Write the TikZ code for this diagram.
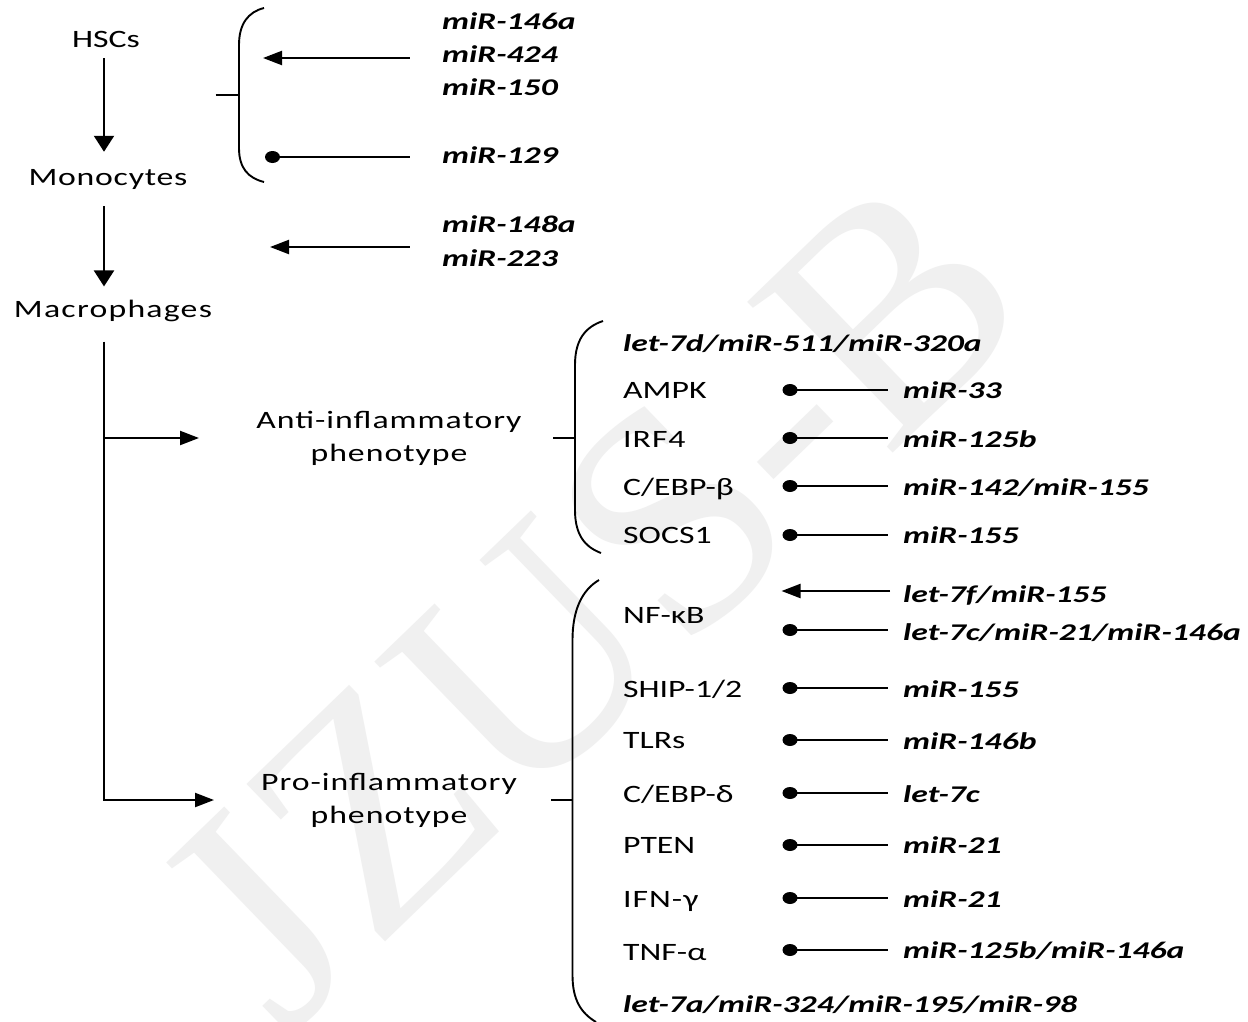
\documentclass[tikz,border=0pt]{standalone}
\usepackage{fontspec}
\setmainfont{Carlito}[FakeStretch=1.35]
\newfontfamily\mirfam{Carlito}[FakeStretch=1.4]
\newfontfamily\wmfam{Liberation Serif}
\usetikzlibrary{arrows.meta,shapes.geometric}
\tikzset{
  lbl/.style={inner sep=0pt, font={\fontsize{25}{33}\selectfont}},
  sp/.style={inner sep=0pt, font={\fontsize{25}{33}\selectfont\addfontfeatures{LetterSpace=#1}}},
  mir/.style={inner sep=0pt, anchor=base west, font={\mirfam\bfseries\itshape\fontsize{24}{30}\selectfont}},
  ln/.style={line width=2.2pt},
  varr/.style={ln, -{Triangle[length=16pt,width=20pt]}},
  harr/.style={ln, -{Triangle[length=19pt,width=14pt]}},
  dotn/.style={ellipse, fill=black, minimum width=15pt, minimum height=12pt, inner sep=0pt},
  brace/.style={line width=1.9pt},
}
\begin{document}
\begin{tikzpicture}[x=1pt,y=-1pt]
\useasboundingbox (0,0) rectangle (1248,1021);
\fill[white] (0,0) rectangle (1248,1021);
% watermark
\node[rotate=44, text=black!6, inner sep=0pt, font={\wmfam\fontsize{320}{320}\selectfont}] (wm) at (590,600) {JZUS-B};

% helper coordinates
\coordinate (spine) at (104,0);
\coordinate (antitip) at (199,0);
\coordinate (protip) at (214,0);
\coordinate (antitick) at (553,0);
\coordinate (antibr) at (575,0);
\coordinate (protick) at (551,0);
\coordinate (probr) at (572.5,0);

% left column
\node[lbl, anchor=base] (hsc) at (106,47) {HSCs};
\node[sp=3, anchor=base] (mono) at (108,185) {Monocytes};
\node[sp=5, anchor=base] (macro) at (113,317) {Macrophages};
\node[sp=4, align=center] (anti) at (389,438) {Anti-inflammatory\\phenotype};
\node[sp=4, align=center] (pro) at (389,800) {Pro-inflammatory\\phenotype};

\draw[varr, shorten <=11pt, shorten >=17pt] (hsc.south -| spine) -- (mono.north -| spine);
\draw[varr, shorten <=17pt, shorten >=13pt] (mono.south -| spine) -- (macro.north -| spine);
\draw[harr, shorten <=20pt] (macro.south -| spine) |- (protip |- pro.west);
\draw[harr] (spine |- anti.west) -- (antitip |- anti.west);

% top bracket
\draw[brace] (264,8) .. controls (248,12) and (239,24) .. (239,45) -- (239,148) .. controls (239,168) and (248,178) .. (264,182);
\draw[ln] (215.5,95) -- (239,95);

% top miRNAs
\node[mir] (m146) at (442,29) {miR-146a};
\node[mir] (m424) at (442,62) {miR-424};
\node[mir] (m150) at (442,95) {miR-150};
\node[mir] (m129) at (442,163) {miR-129};
\node[mir] (m148) at (442,232) {miR-148a};
\node[mir] (m223) at (442,266) {miR-223};

\coordinate (a1) at (263,58);
\coordinate (a2) at (270,247);
\draw[harr, shorten <=32.5pt] (a1 -| m424.west) -- (a1);
\draw[harr, shorten <=32.5pt] (a2 -| m148.west) -- (a2);
\node[dotn] (d0) at (272.5,157) {};
\draw[ln, shorten >=32.5pt] (d0.center) -- (d0 -| m129.west);

% anti-inflammatory bracket
\draw[brace] (603,321) .. controls (585,327) and (575,340) .. (575,365) -- (575,510) .. controls (575,535) and (585,547) .. (601,553);
\draw[ln] (antitick |- anti.east) -- (antibr |- anti.east);

\node[mir] (let7d) at (623,351) {let-7d/miR-511/miR-320a};
\node[lbl, anchor=base west] (ampk) at (623,398) {AMPK};
\node[sp=4, anchor=base west] (irf) at (623,447) {IRF4};
\node[lbl, anchor=base west] (cebpb) at (623,495) {C/EBP-β};
\node[lbl, anchor=base west] (socs) at (623,543) {SOCS1};

\node[mir] (m33) at (903,398) {miR-33};
\node[mir] (m125) at (903,447) {miR-125b};
\node[mir] (m142) at (903,495) {miR-142/miR-155};
\node[mir] (m155a) at (903,543) {miR-155};

\node[dotn] (dA) at (790,390) {};
\node[dotn] (dB) at (790,438) {};
\node[dotn] (dC) at (790,486) {};
\node[dotn] (dD) at (790,535) {};
\draw[ln, shorten >=15pt] (dA.center) -- (dA -| m33.west);
\draw[ln, shorten >=15pt] (dB.center) -- (dB -| m125.west);
\draw[ln, shorten >=15pt] (dC.center) -- (dC -| m142.west);
\draw[ln, shorten >=15pt] (dD.center) -- (dD -| m155a.west);

% pro-inflammatory bracket
\draw[brace] (599,580) .. controls (582,590) and (572.5,610) .. (572.5,640) -- (572.5,975) .. controls (572.5,1000) and (581,1013) .. (596,1022);
\draw[ln] (protick |- pro.east) -- (probr |- pro.east);

\node[lbl, anchor=base west] (nfkb) at (623,623) {NF-κB};
\node[lbl, anchor=base west] (ship) at (623,697) {SHIP-1/2};
\node[lbl, anchor=base west] (tlr) at (623,748) {TLRs};
\node[lbl, anchor=base west] (cebpd) at (623,802) {C/EBP-δ};
\node[lbl, anchor=base west] (pten) at (623,853) {PTEN};
\node[sp=4, anchor=base west] (ifn) at (623,907) {IFN-γ};
\node[lbl, anchor=base west] (tnf) at (623,960) {TNF-α};
\node[mir] (let7a) at (623,1012) {let-7a/miR-324/miR-195/miR-98};

\node[mir] (let7f) at (903,602) {let-7f/miR-155};
\node[mir] (let7c) at (903,640) {let-7c/miR-21/miR-146a};
\node[mir] (m155b) at (903,697) {miR-155};
\node[mir] (m146b) at (903,749) {miR-146b};
\node[mir] (let7cb) at (903,802) {let-7c};
\node[mir] (m21a) at (903,853) {miR-21};
\node[mir] (m21b) at (903,907) {miR-21};
\node[mir] (m125c) at (903,958) {miR-125b/miR-146a};

\coordinate (a3) at (781.5,591);
\draw[harr, shorten <=13pt] (a3 -| let7f.west) -- (a3);
\node[dotn] (e1) at (790,630) {};
\node[dotn] (e2) at (790,688) {};
\node[dotn] (e3) at (790,740) {};
\node[dotn] (e4) at (790,793) {};
\node[dotn] (e5) at (790,845) {};
\node[dotn] (e6) at (790,898) {};
\node[dotn] (e7) at (790,950) {};
\draw[ln, shorten >=15pt] (e1.center) -- (e1 -| let7c.west);
\draw[ln, shorten >=15pt] (e2.center) -- (e2 -| m155b.west);
\draw[ln, shorten >=15pt] (e3.center) -- (e3 -| m146b.west);
\draw[ln, shorten >=15pt] (e4.center) -- (e4 -| let7cb.west);
\draw[ln, shorten >=15pt] (e5.center) -- (e5 -| m21a.west);
\draw[ln, shorten >=15pt] (e6.center) -- (e6 -| m21b.west);
\draw[ln, shorten >=15pt] (e7.center) -- (e7 -| m125c.west);
\end{tikzpicture}
\end{document}
